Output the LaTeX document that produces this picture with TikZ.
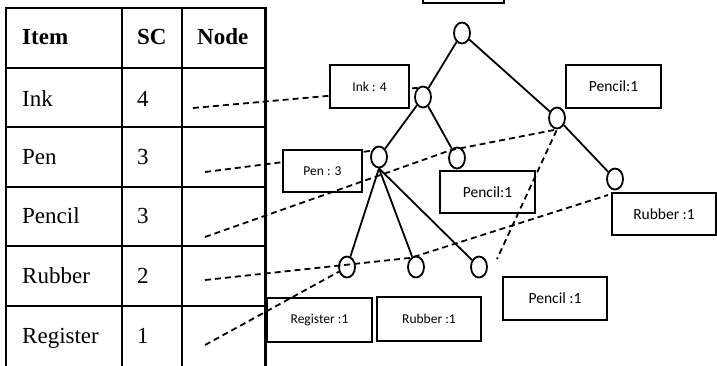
\documentclass[tikz,border=0pt]{standalone}
\usepackage{fontspec}
\setmainfont{Liberation Serif}
\newfontfamily\boxfont{Carlito}
\usetikzlibrary{shapes.geometric}
\tikzset{
  cell/.style={anchor=base west, inner sep=0pt, font=\fontsize{23}{27}\selectfont},
  head/.style={cell, font=\fontsize{23}{27}\selectfont\bfseries},
  grid/.style={line width=2.2pt},
  tnode/.style={ellipse, draw, line width=1.8pt, minimum width=16pt, minimum height=21pt, inner sep=0pt},
  edge/.style={line width=1.8pt},
  link/.style={line width=1.8pt, dash pattern=on 6pt off 4pt},
  lbl/.style={draw, line width=2pt, fill=white, inner sep=0pt, font=\boxfont\fontsize{13.5}{15}\selectfont},
  lblbig/.style={lbl, font=\boxfont\fontsize{15.5}{18}\selectfont},
}
\begin{document}
\begin{tikzpicture}[x=1pt, y=-1pt]
\useasboundingbox (0,0) rectangle (717,365);

% ---- header table ----
\foreach \yy in {8,68,127,187,246,306}
  \draw[grid] (5,\yy) -- (266.5,\yy);
\foreach \xx in {6,122,182,265.5}
  \draw[grid] (\xx,7) -- (\xx,366);

\node[head] (hItem) at (22,44) {Item};
\node[head] (hSC)   at (137,44) {SC};
\node[head] (hNode) at (197,44) {Node};

\node[cell] (iInk) at (22,106) {Ink};      \node[cell] (cInk) at (137,106) {4};
\node[cell] (iPen) at (22,164) {Pen};      \node[cell] (cPen) at (137,164) {3};
\node[cell] (iPcl) at (22,223) {Pencil};   \node[cell] (cPcl) at (137,223) {3};
\node[cell] (iRub) at (22,283) {Rubber};   \node[cell] (cRub) at (137,283) {2};
\node[cell] (iReg) at (22,343) {Register}; \node[cell] (cReg) at (137,343) {1};

% link starts in the Node column
\coordinate (tInk)    at (193,108);
\coordinate (tPen)    at (205,172);
\coordinate (tPencil) at (205,237);
\coordinate (tRub)    at (205,280);
\coordinate (tReg)    at (205,345);

% ---- tree ----
\node[tnode] (n1)  at (462,33) {};
\node[tnode] (n2)  at (423,97) {};
\node[tnode] (n3)  at (557,118) {};
\node[tnode] (n4)  at (379,157) {};
\node[tnode] (n5)  at (457,158) {};
\node[tnode] (n10) at (615,179) {};
\node[tnode] (n7)  at (347,267) {};
\node[tnode] (n8)  at (416,267) {};
\node[tnode] (n9)  at (479,267) {};

\draw[edge] (n1) -- (n2);
\draw[edge] (n1) -- (n3);
\draw[edge] (n2) -- (n4);
\draw[edge] (n2) -- (n5);
\draw[edge] (n3) -- (n10);
\draw[edge] (n4.south) -- (n7);
\draw[edge] (n4.south) -- (n8);
\draw[edge] (n4.south) -- (n9);

% links hidden behind the count boxes
\draw[link] (tInk) -- (n2.120);
\draw[link] (tPen) -- (n4.140);

% ---- count boxes ----
\draw[line width=2pt] (423,-20) rectangle (504,3);
\node[lbl, minimum width=79pt, minimum height=43pt] (bInk) at (369.5,86.5) {Ink : 4};
\node[lbl, minimum width=79pt, minimum height=42pt] (bPen) at (322.5,171) {Pen : 3};
\node[lblbig, minimum width=95pt, minimum height=43pt] (bPclA) at (613.5,86.5) {Pencil:1};
\node[lblbig, minimum width=95pt, minimum height=42pt] (bPclB) at (487.5,192) {Pencil:1};
\node[lblbig, minimum width=104pt, minimum height=42pt] (bRubA) at (664,214) {Rubber :1};
\node[lbl, minimum width=105pt, minimum height=44pt] (bReg) at (319.5,320) {Register :1};
\node[lbl, minimum width=104pt, minimum height=44pt] (bRubB) at (429,319) {Rubber :1};
\node[lblbig, minimum width=104pt, minimum height=43pt] (bPclC) at (555,298.5) {Pencil :1};

% ---- node links drawn on top ----
\coordinate (pencilEnd) at (497,259);
\coordinate (rubEnd) at (608,195);
\draw[link] (tPencil) -- (n5.130) -- (n3.south) -- (pencilEnd);
\draw[link] (tRub) -- (n8.120) -- (rubEnd);
\draw[link] (tReg) -- (n7.210);
\end{tikzpicture}
\end{document}
